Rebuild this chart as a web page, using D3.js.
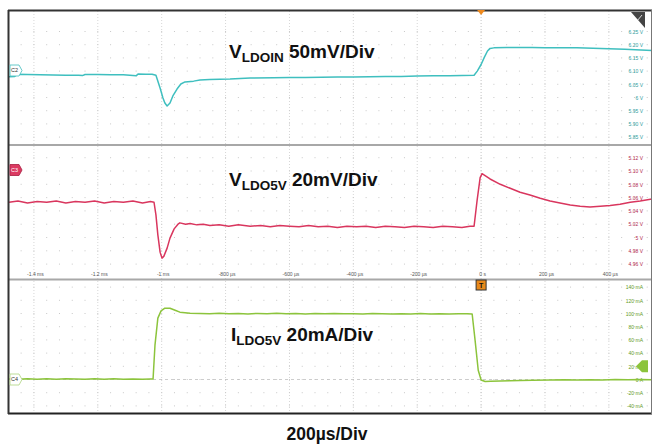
<!DOCTYPE html>
<html><head><meta charset="utf-8">
<script src="https://cdnjs.cloudflare.com/ajax/libs/d3/7.8.5/d3.min.js"></script>
<style>html,body{margin:0;padding:0;background:#fff;}svg{display:block;}</style>
</head><body>
<script>
// ---- data (time in µs) ----
const xTicks = [-1400,-1200,-1000,-800,-600,-400,-200,0,200,400];
const xTickLabels = ["-1.4 ms","-1.2 ms","-1 ms","-800 µs","-600 µs","-400 µs","-200 µs","0 s","200 µs","400 µs"];
const vinTicks = [6.25,6.20,6.15,6.10,6.05,6.00,5.95,5.90,5.85];
const vinTickLabels = ["6.25 V","6.20 V","6.15 V","6.10 V","6.05 V","6 V","5.95 V","5.90 V","5.85 V"];
const voutTicks = [5.12,5.10,5.08,5.06,5.04,5.02,5.00,4.98,4.96];
const voutTickLabels = ["5.12 V","5.10 V","5.08 V","5.06 V","5.04 V","5.02 V","5 V","4.98 V","4.96 V"];
const ioutTicks = [140,120,100,80,60,40,20,0,-20,-40];
const ioutTickLabels = ["140 mA","120 mA","100 mA","80 mA","60 mA","40 mA","20 mA","0 A","-20 mA","-40 mA"];

const tIn = [-1478,-1460,-1452,-1420,-1380,-1340,-1300,-1260,-1248,-1240,
  -1200,-1160,-1120,-1080,-1074,-1050,-1030,-1018,-1005,-996,
  -990,-983,-974,-965,-952,-940,-927,-900,-880,-850,
  -786,-723,-650,-600,-550,-500,-450,-400,-350,-300,
  -250,-200,-150,-100,-60,-22,-12,0,10,20,
  28,40,80,120,160,200,250,300,350,400,
  450,500,535];
const vIn = [6.079,6.080,6.088,6.087,6.086,6.085,6.084,6.084,6.083,6.087,
  6.087,6.086,6.086,6.082,6.089,6.088,6.088,6.084,6.036,5.998,
  5.979,5.968,5.979,6.006,6.032,6.051,6.059,6.062,6.066,6.068,
  6.070,6.074,6.075,6.076,6.076,6.077,6.078,6.078,6.079,6.080,
  6.080,6.081,6.082,6.082,6.083,6.084,6.100,6.125,6.152,6.176,
  6.186,6.188,6.189,6.189,6.189,6.188,6.188,6.188,6.187,6.185,
  6.183,6.180,6.178];

const tOut = [-1478,-1450,-1420,-1390,-1360,-1330,-1300,-1270,-1240,-1210,
  -1180,-1150,-1120,-1090,-1060,-1035,-1024,-1018,-1012,-1005,
  -999,-993,-983,-974,-961,-949,-943,-925,-911,-890,
  -870,-849,-820,-790,-760,-723,-690,-660,-630,-600,
  -570,-540,-510,-480,-450,-420,-390,-360,-330,-300,
  -270,-240,-210,-180,-150,-120,-90,-60,-35,-22,
  -12.5,-3,3,12.5,28,60,91,122,153,185,
  216,247,279,310,341,373,404,435,467,498,
  535];
const vOut = [5.053,5.055,5.052,5.054,5.053,5.055,5.052,5.054,5.053,5.055,
  5.052,5.054,5.053,5.055,5.052,5.054,5.053,5.034,5.004,4.978,
  4.969,4.972,4.984,4.999,5.013,5.020,5.022,5.020,5.021,5.019,
  5.020,5.018,5.019,5.017,5.019,5.017,5.018,5.016,5.018,5.017,
  5.016,5.018,5.016,5.017,5.015,5.017,5.016,5.017,5.015,5.017,
  5.016,5.015,5.017,5.016,5.015,5.017,5.016,5.015,5.017,5.017,
  5.056,5.090,5.096,5.093,5.088,5.080,5.074,5.068,5.064,5.059,
  5.055,5.052,5.049,5.047,5.046,5.047,5.048,5.050,5.053,5.055,
  5.058];

const tI = [-1478,-1450,-1420,-1390,-1360,-1330,-1300,-1270,-1240,-1210,
  -1180,-1150,-1120,-1090,-1060,-1035,-1027,-1021,-1012,-1002,
  -990,-974,-958,-943,-911,-880,-850,-820,-790,-760,
  -730,-700,-670,-640,-610,-580,-550,-520,-490,-460,
  -430,-400,-370,-340,-310,-280,-250,-220,-190,-160,
  -130,-100,-70,-45,-28,-19,-9,0,12.5,30,
  60,90,122,160,216,260,300,340,380,420,
  460,500,535];
const iOut = [0.8,0.2,1.2,0.5,1.0,0.3,1.1,0.6,0.2,1.0,
  0.5,1.2,0.4,0.9,0.3,0.8,0.8,52,93,104,
  108,108,105,102,100.5,100,99.5,100.2,99.5,100,
  99.4,100.1,99.6,100.2,99.5,100,99.3,99.9,99.6,100.1,
  99.5,99.8,99.3,100,99.6,99.2,99.8,99.4,99.9,99.3,
  99.7,99.2,99.8,99.5,99.2,60,14,-0.8,-3,-2.6,
  -2.3,-2,-1.5,-1.2,-0.8,-0.3,-0.8,-0.2,-0.6,-0.1,
  -0.5,0,-0.3];

// ---- layout ----
const W = 654, H = 446;
const L = 9, R = 652;
const panels = [
  {top:10, bottom:145, color:"#3fbfbf", labelColor:"#2f9d9d"},
  {top:145, bottom:279.5, color:"#d9365e", labelColor:"#b3284c"},
  {top:279.5, bottom:413, color:"#8cc43c", labelColor:"#5f9a24"}
];

const svg = d3.select("body").append("svg").attr("width",W).attr("height",H)
  .style("font-family","'Liberation Sans', Arial, sans-serif");

const x = d3.scaleLinear().domain([-1478, 535]).range([L, R]);
const yIn = d3.scaleLinear().domain([6.0, 6.25]).range([97.5, 31.5]);
const yOut = d3.scaleLinear().domain([5.0, 5.12]).range([237.5, 157.7]);
const yI = d3.scaleLinear().domain([0, 140]).range([379.5, 287.1]);

// ---- grid ----
const grid = svg.append("g");
xTicks.forEach(t => {
  grid.append("line").attr("x1",x(t)).attr("x2",x(t)).attr("y1",11).attr("y2",412)
    .attr("stroke", t===0 ? "#c4c4c4" : "#d6d6d6").attr("stroke-width",1)
    .attr("stroke-dasharray","1,2");
});
const minorT = d3.range(-1440, 535, 40);
function dotRows(ticks, scale){
  ticks.forEach(v => {
    const yy = scale(v);
    minorT.forEach(t => {
      grid.append("rect").attr("x",x(t)-0.5).attr("y",yy-0.5).attr("width",1).attr("height",1)
        .attr("fill","#c8c8c8");
    });
  });
}
dotRows(vinTicks, yIn);
dotRows(voutTicks, yOut);
dotRows(ioutTicks, yI);
// zero reference dashed line in current panel
grid.append("line").attr("x1",L).attr("x2",R).attr("y1",yI(0)).attr("y2",yI(0))
  .attr("stroke","#c0c0c0").attr("stroke-dasharray","3,3").attr("stroke-width",0.8);

// ---- right axis labels ----
function rightLabels(ticks, labels, scale, color){
  const ax = d3.axisRight(scale).tickValues(ticks).tickFormat((d,i)=>labels[i]).tickSize(0);
  const g = svg.append("g").attr("transform",`translate(643,0)`).call(ax);
  g.select(".domain").remove();
  g.selectAll("text").attr("x",0).attr("text-anchor","end").attr("fill",color)
    .style("font-size","5px").attr("dy","0.35em").style("font-family","'Liberation Sans', Arial, sans-serif");
}
rightLabels(vinTicks, vinTickLabels, yIn, panels[0].labelColor);
rightLabels(voutTicks, voutTickLabels, yOut, panels[1].labelColor);
rightLabels(ioutTicks, ioutTickLabels, yI, panels[2].labelColor);

// x tick labels at bottom of panel 2
const xa = d3.axisBottom(x).tickValues(xTicks).tickFormat((d,i)=>xTickLabels[i]).tickSize(0);
const xg = svg.append("g").attr("transform","translate(1,272)").call(xa);
xg.select(".domain").remove();
xg.selectAll("text").attr("y",0).attr("fill","#555").style("font-size","5px")
  .style("font-family","'Liberation Sans', Arial, sans-serif");

// ---- traces ----
panels.forEach((p,i)=>{
  svg.append("clipPath").attr("id","clip"+i).append("rect")
    .attr("x",L).attr("y",p.top+1).attr("width",R-L).attr("height",p.bottom-p.top-2);
});
function trace(ts, vs, scale, color, i){
  const data = d3.zip(ts, vs);
  svg.append("path").datum(data)
    .attr("clip-path",`url(#clip${i})`)
    .attr("fill","none").attr("stroke",color).attr("stroke-width",1.5)
    .attr("stroke-linejoin","round")
    .attr("d", d3.line().x(d=>x(d[0])).y(d=>scale(d[1])));
}
trace(tIn, vIn, yIn, panels[0].color, 0);
trace(tOut, vOut, yOut, panels[1].color, 1);
trace(tI, iOut, yI, panels[2].color, 2);

// ---- frame ----
svg.append("line").attr("x1",L).attr("x2",R).attr("y1",145).attr("y2",145).attr("stroke","#a8a8a8").attr("stroke-width",1.8);
svg.append("line").attr("x1",L).attr("x2",R).attr("y1",279.5).attr("y2",279.5).attr("stroke","#a8a8a8").attr("stroke-width",1.8);
svg.append("line").attr("x1",8).attr("x2",652).attr("y1",10.5).attr("y2",10.5).attr("stroke","#333").attr("stroke-width",2.2);
svg.append("line").attr("x1",8).attr("x2",652).attr("y1",413.5).attr("y2",413.5).attr("stroke","#222").attr("stroke-width",2);
svg.append("line").attr("x1",8.5).attr("x2",8.5).attr("y1",10).attr("y2",414).attr("stroke","#333").attr("stroke-width",2);
svg.append("line").attr("x1",651.5).attr("x2",651.5).attr("y1",10).attr("y2",414).attr("stroke","#777").attr("stroke-width",1);

// ---- markers ----
function chanTag(y0, label, fill, stroke, txt){
  const w=12,h=11,x0=10;
  svg.append("path").attr("d",`M${x0},${y0}h${w-3}l3,${h/2}l-3,${h/2}h${-(w-3)}z`)
    .attr("fill",fill).attr("stroke",stroke).attr("stroke-width",0.9);
  svg.append("text").attr("x",x0+4.5).attr("y",y0+h/2).attr("dy","0.35em")
    .attr("text-anchor","middle").attr("fill",txt).style("font-size","5.5px").text(label);
}
chanTag(65, "C2", "#fff", "#55c4c4", "#333");
chanTag(164.5, "C3", "#dc3a62", "#b02a4c", "#fff");
chanTag(374, "C4", "#fff", "#b6d98c", "#333");

// trigger markers
svg.append("path").attr("d",`M${x(0)-4},10 L${x(0)+4},10 L${x(0)},15 Z`).attr("fill","#ef8a1e");
svg.append("rect").attr("x",x(0)-5).attr("y",280).attr("width",10).attr("height",10)
  .attr("fill","#e8891a").attr("stroke","#333").attr("stroke-width",1);
svg.append("text").attr("x",x(0)).attr("y",285.5).attr("dy","0.35em").attr("text-anchor","middle")
  .attr("fill","#111").style("font-size","7px").style("font-weight","bold").text("T");
// trigger level arrow (panel 3)
const ty = yI(20);
svg.append("path").attr("d",`M636,${ty} L642,${ty-6} L648,${ty-6} L648,${ty+6} L642,${ty+6} Z`)
  .attr("fill","#8cc43c");
// top-right icon
svg.append("path").attr("d","M631,12 L645,12 L645,28 Z").attr("fill","#444");
svg.append("line").attr("x1",637).attr("y1",21).attr("x2",642).attr("y2",15).attr("stroke","#fff").attr("stroke-width",0.8);

// ---- titles ----
function title(xp, yp, main, sub, rest){
  const t = svg.append("text").attr("x",xp).attr("y",yp).attr("fill","#111")
    .style("font-weight","bold").style("font-size","19px");
  t.append("tspan").text(main);
  t.append("tspan").attr("dy",4).style("font-size","13.5px").text(sub);
  t.append("tspan").attr("dy",-4).text(" " + rest);
}
title(229, 58, "V", "LDOIN", "50mV/Div");
title(229, 186, "V", "LDO5V", "20mV/Div");
title(231, 341, "I", "LDO5V", "20mA/Div");

svg.append("text").attr("x",327).attr("y",440).attr("text-anchor","middle")
  .attr("fill","#111").style("font-weight","bold").style("font-size","17.5px").text("200µs/Div");
</script>
</body></html>
